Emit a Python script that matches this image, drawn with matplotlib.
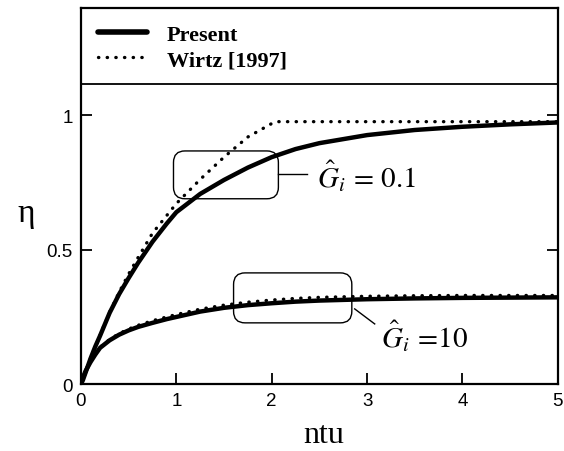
import numpy as np
import matplotlib
matplotlib.use('Agg')
import matplotlib.pyplot as plt
from matplotlib.patches import FancyBboxPatch

## data
ntu = [0, 0.02, 0.05, 0.1, 0.15, 0.2, 0.3, 0.4, 0.5, 0.6, 0.75, 0.9, 1.0, 1.25, 1.5,
       1.75, 2.0, 2.25, 2.5, 3.0, 3.5, 4.0, 4.5, 5.0]
present_01 = [0, 0.015, 0.045, 0.095, 0.14, 0.18, 0.265, 0.335, 0.395, 0.452, 0.53, 0.598,
              0.64, 0.708, 0.76, 0.806, 0.845, 0.875, 0.897, 0.927, 0.946, 0.958, 0.967, 0.974]
present_10 = [0, 0.025, 0.05, 0.082, 0.11, 0.135, 0.163, 0.184, 0.2, 0.213, 0.228, 0.242,
              0.25, 0.27, 0.284, 0.294, 0.301, 0.307, 0.311, 0.316, 0.319, 0.321, 0.322, 0.323]
wirtz_10 = [0, 0.025, 0.05, 0.083, 0.111, 0.137, 0.166, 0.188, 0.205, 0.219, 0.236, 0.25,
            0.259, 0.279, 0.294, 0.305, 0.313, 0.319, 0.323, 0.327, 0.329, 0.33, 0.33, 0.33]

ntu_w = [0, 0.05, 0.1, 0.2, 0.3, 0.4, 0.5, 0.6, 0.75, 1.0, 1.25, 1.5, 1.75, 2.0, 2.05, 5.0]
wirtz_01 = [0, 0.045, 0.095, 0.182, 0.268, 0.342, 0.41, 0.472, 0.562, 0.672, 0.762, 0.845,
            0.92, 0.97, 0.977, 0.977]

xticks = [0, 1, 2, 3, 4, 5]
yticks = [0, 0.5, 1]
ytick_labels = ['0', '0.5', '1']

plt.rcParams['mathtext.fontset'] = 'stix'

fig = plt.figure(figsize=(5.64, 4.52), dpi=100)
ax = fig.add_axes([0.1436, 0.148, 0.8454, 0.832])

dots = dict(color='black', lw=2.4, linestyle=(0, (0.1, 2.5)), dash_capstyle='round')

ax.plot(ntu, present_01, color='black', lw=3.2, solid_capstyle='round', label='Present')
ax.plot(ntu_w, wirtz_01, label='Wirtz [1997]', **dots)
ax.plot(ntu, present_10, color='black', lw=3.2, solid_capstyle='round')
ax.plot(ntu, wirtz_10, **dots)

ax.set_xlim(0, 5)
ax.set_ylim(0, 1.4)

# legend strip at the top
ax.axhline(1.116, color='black', lw=1.3)
leg = ax.legend(loc='upper left', frameon=False, handlelength=2.2, handletextpad=0.9,
                borderaxespad=0.4, borderpad=0.35, labelspacing=0.2,
                prop={'family': 'Liberation Serif', 'weight': 'bold', 'size': 16})
leg.get_lines()[0].set_linewidth(4)

# rounded boxes
asp = 95.5 / 268
for (x0, y0, w, h) in [(0.97, 0.69, 1.10, 0.178), (1.6, 0.228, 1.24, 0.186)]:
    box = FancyBboxPatch((x0, y0), w, h, boxstyle='round,pad=0,rounding_size=0.12',
                         mutation_aspect=asp, fill=False, ec='black', lw=1.0)
    ax.add_patch(box)

ax.plot([2.07, 2.37], [0.783, 0.783], color='black', lw=1.0)
ax.plot([2.87, 3.08], [0.28, 0.224], color='black', lw=1.0)
ax.text(2.47, 0.776, r'$\hat{G}_i\, =\, 0.1$', fontsize=21, va='center', ha='left')
ax.text(3.15, 0.18, r'$\hat{G}_i\, =\!10$', fontsize=21, va='center', ha='left')

ax.set_xticks(xticks)
ax.set_yticks(yticks)
ax.set_yticklabels(ytick_labels)
ax.tick_params(direction='in', length=8, width=1.3, right=True, labelsize=13.5, pad=6)
for lab in ax.get_xticklabels() + ax.get_yticklabels():
    lab.set_family('Liberation Sans')
for s in ax.spines.values():
    s.set_linewidth(1.6)

ax.set_xlabel('ntu', family='Liberation Serif', fontsize=23, va='center')
ax.xaxis.set_label_coords(0.51, -0.133)
ax.set_ylabel('η', family='Liberation Serif', fontsize=24, rotation=0, va='center', ha='center')
ax.yaxis.set_label_coords(-0.115, 0.455)

fig.savefig('out.png', dpi=100)
